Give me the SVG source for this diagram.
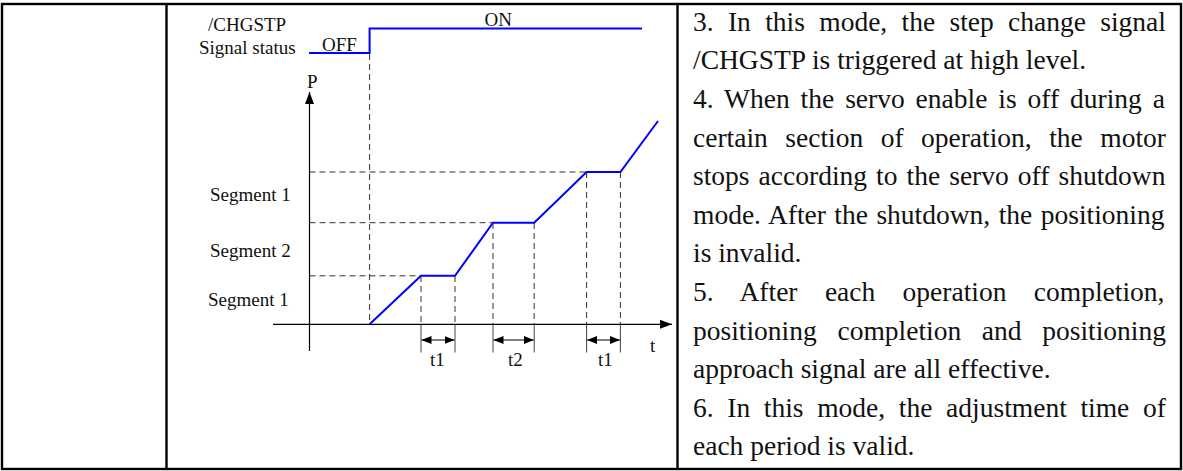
<svg xmlns="http://www.w3.org/2000/svg" width="1183" height="471" viewBox="0 0 1183 471">
<style>
.tbl{stroke:#000;stroke-width:2.4;fill:none}
.lbl{font-family:"Liberation Serif","Times New Roman",serif;font-size:19px;fill:#111}
.body{font-family:"Liberation Serif","Times New Roman",serif;font-size:27.5px;fill:#111}
.sig{stroke:#0000ff;stroke-width:2;fill:none;stroke-linejoin:miter}
.dash{stroke:#333;stroke-width:1;stroke-dasharray:6 4;fill:none}
.ext{stroke:#444;stroke-width:1;fill:none}
.axis{stroke:#000;stroke-width:1.2;fill:none}
.dim{stroke:#000;stroke-width:1.2;fill:none}
</style>
<defs>
<marker id="ah" markerWidth="12" markerHeight="9" refX="12" refY="4.5" orient="auto-start-reverse" markerUnits="userSpaceOnUse">
<path d="M0,0 L12,4.5 L0,9 Z" fill="#000"/>
</marker>
<marker id="dh" markerWidth="10" markerHeight="8" refX="10" refY="4" orient="auto-start-reverse" markerUnits="userSpaceOnUse">
<path d="M0,0 L10,4 L0,8 Z" fill="#000"/>
</marker>
</defs>
<rect width="1183" height="471" fill="#fff"/>
<g id="table">
<rect class="tbl" x="2" y="4" width="1179" height="465"/>
<line class="tbl" x1="166.5" y1="4" x2="166.5" y2="469"/>
<line class="tbl" x1="677.5" y1="4" x2="677.5" y2="469"/>
</g>
<g id="signal">
<text class="lbl" x="208" y="31">/CHGSTP</text>
<text class="lbl" x="199" y="54">Signal status</text>
<text class="lbl" x="322" y="51">OFF</text>
<text class="lbl" x="484.5" y="25.5">ON</text>
<polyline class="sig" points="309,53 369.6,53 369.6,28.4 642,28.4"/>
</g>
<g id="connectors">
<line class="dash" x1="369.6" y1="54" x2="369.6" y2="324"/>
<line class="dash" x1="309.5" y1="172" x2="586.6" y2="172"/>
<line class="dash" x1="309.5" y1="222.7" x2="493" y2="222.7"/>
<line class="dash" x1="309.5" y1="275.8" x2="421" y2="275.8"/>
<line class="dash" x1="421" y1="276" x2="421" y2="324"/>
<line class="dash" x1="455" y1="276" x2="455" y2="324"/>
<line class="dash" x1="493" y1="223" x2="493" y2="324"/>
<line class="dash" x1="534.2" y1="223" x2="534.2" y2="324"/>
<line class="dash" x1="586.6" y1="172" x2="586.6" y2="324"/>
<line class="dash" x1="620.4" y1="172" x2="620.4" y2="324"/>
<line class="ext" x1="421" y1="324" x2="421" y2="352.5"/>
<line class="ext" x1="455" y1="324" x2="455" y2="352.5"/>
<line class="ext" x1="493" y1="324" x2="493" y2="352.5"/>
<line class="ext" x1="534.2" y1="324" x2="534.2" y2="352.5"/>
<line class="ext" x1="586.6" y1="324" x2="586.6" y2="352.5"/>
<line class="ext" x1="620.4" y1="324" x2="620.4" y2="352.5"/>
<line class="axis" x1="309.5" y1="351" x2="309.5" y2="92" marker-end="url(#ah)"/>
<line class="axis" x1="273" y1="324.3" x2="672" y2="324.3" marker-end="url(#ah)"/>
<line class="dim" x1="421.5" y1="340" x2="454.5" y2="340" marker-start="url(#dh)" marker-end="url(#dh)"/>
<line class="dim" x1="493.5" y1="340" x2="533.7" y2="340" marker-start="url(#dh)" marker-end="url(#dh)"/>
<line class="dim" x1="587.1" y1="340" x2="619.9" y2="340" marker-start="url(#dh)" marker-end="url(#dh)"/>
</g>
<g id="curve">
<polyline class="sig" points="369.6,324.3 421,275.8 455,275.8 493,222.7 534.2,222.7 586.6,172 620.4,172 658,121"/>
</g>
<g id="axis-labels">
<text class="lbl" x="307" y="88">P</text>
<text class="lbl" x="650" y="352">t</text>
<text class="lbl" x="430" y="366">t1</text>
<text class="lbl" x="508" y="366">t2</text>
<text class="lbl" x="598" y="366">t1</text>
<text class="lbl" x="210" y="201.4">Segment 1</text>
<text class="lbl" x="210" y="256.5">Segment 2</text>
<text class="lbl" x="208" y="306">Segment 1</text>
</g>
<g id="description">
<text class="body" x="693" y="30.7" word-spacing="7.45">3. In this mode, the step change signal</text>
<text class="body" x="693" y="69.3">/CHGSTP is triggered at high level.</text>
<text class="body" x="693" y="107.9" word-spacing="4.04">4. When the servo enable is off during a</text>
<text class="body" x="693" y="146.5" word-spacing="10.59">certain section of operation, the motor</text>
<text class="body" x="693" y="185.1" word-spacing="2.19">stops according to the servo off shutdown</text>
<text class="body" x="693" y="223.7" word-spacing="1.57">mode. After the shutdown, the positioning</text>
<text class="body" x="693" y="262.3">is invalid.</text>
<text class="body" x="693" y="300.9" word-spacing="20.5">5. After each operation completion,</text>
<text class="body" x="693" y="339.5" word-spacing="13.8">positioning completion and positioning</text>
<text class="body" x="693" y="378.1">approach signal are all effective.</text>
<text class="body" x="693" y="416.7" word-spacing="6.78">6. In this mode, the adjustment time of</text>
<text class="body" x="693" y="455.3">each period is valid.</text>
</g>
</svg>
